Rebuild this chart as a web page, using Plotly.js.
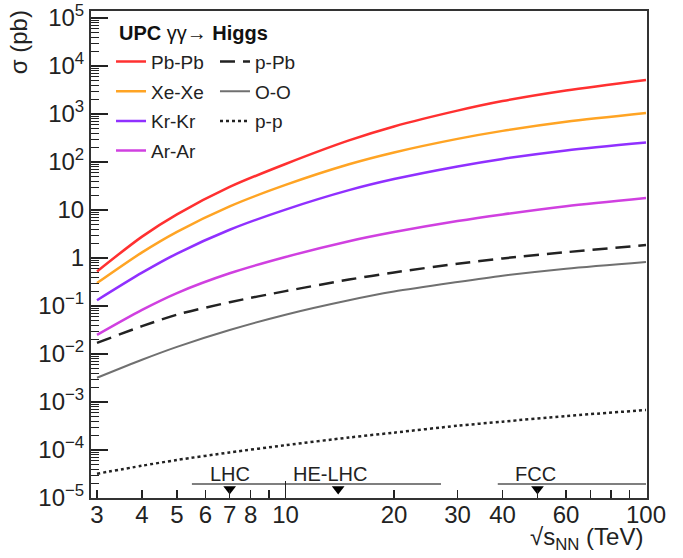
<!DOCTYPE html>
<html><head><meta charset="utf-8">
<script src="https://cdn.plot.ly/plotly-3.0.1.min.js"></script>
<style>body{margin:0;background:#fff}</style>
</head><body><div id="chart" style="width:683px;height:558px"></div>
<script>
// sqrt(s_NN) in TeV
const energies = [3, 4, 5, 7, 10, 15, 20, 30, 40, 60, 100];
// cross sections in pb
const sigmaPbPb = [0.525, 2.79, 8.1, 30.2, 91, 282, 550, 1175, 1860, 3090, 5130];
const sigmaXeXe = [0.30, 1.31, 3.51, 11.9, 33.3, 89.7, 158, 303, 445, 689, 1050];
const sigmaKrKr = [0.132, 0.495, 1.24, 3.88, 10.2, 25.9, 44.1, 80.9, 116, 174, 255];
const sigmaArAr = [0.025, 0.083, 0.186, 0.48, 1.05, 2.24, 3.47, 5.9, 8.1, 12.0, 17.8];
const sigmapPb  = [0.017, 0.038, 0.066, 0.12, 0.204, 0.355, 0.50, 0.76, 0.98, 1.32, 1.86];
const sigmaOO   = [0.0032, 0.0076, 0.0141, 0.0316, 0.066, 0.132, 0.20, 0.316, 0.427, 0.60, 0.83];
const sigmapp   = [3.2e-5, 4.7e-5, 6.2e-5, 8.9e-5, 1.26e-4, 1.82e-4, 2.3e-4, 3.2e-4, 3.9e-4, 5.1e-4, 6.8e-4];

const seriesNames = ['Pb-Pb', 'Xe-Xe', 'Kr-Kr', 'Ar-Ar', 'p-Pb', 'O-O', 'p-p'];
const legendTitle = '<b>UPC</b> γγ→ <b>Higgs</b>';

// colliders
const colliderNames = ['LHC', 'HE-LHC', 'FCC'];
const colliderMin = [5.5, 10, 38.8];
const colliderMax = [10, 27, 100];
const colliderNominal = [7, 14, 50];

// axis ticks
const xTickVals = [3, 4, 5, 6, 7, 8, 9, 10, 20, 30, 40, 50, 60, 70, 80, 90, 100];
const xTickText = ['3', '4', '5', '6', '7', '8', '', '10', '20', '30', '40', '', '60', '', '', '', '100'];
const yTickVals = [1e-5, 1e-4, 1e-3, 1e-2, 1e-1, 1, 10, 1e2, 1e3, 1e4, 1e5];
const yTickText = ['10<sup>−5</sup>', '10<sup>−4</sup>', '10<sup>−3</sup>', '10<sup>−2</sup>', '10<sup>−1</sup>',
                   '1', '10', '10<sup>2</sup>', '10<sup>3</sup>', '10<sup>4</sup>', '10<sup>5</sup>'];

const FONT = 'Liberation Sans, Arial, Helvetica, sans-serif';

const styles = [
  {color: '#ff3030', width: 2.5, dash: 'solid', legend: 'legend'},
  {color: '#ffa424', width: 2.5, dash: 'solid', legend: 'legend'},
  {color: '#9030ff', width: 2.5, dash: 'solid', legend: 'legend'},
  {color: '#d040e0', width: 2.5, dash: 'solid', legend: 'legend'},
  {color: '#222222', width: 2.5, dash: '15px,8px', legend: 'legend2'},
  {color: '#707070', width: 2, dash: 'solid', legend: 'legend2'},
  {color: '#222222', width: 2.5, dash: '3px,3px', legend: 'legend2'}
];
const seriesData = [sigmaPbPb, sigmaXeXe, sigmaKrKr, sigmaArAr, sigmapPb, sigmaOO, sigmapp];

const traces = seriesData.map((ys, i) => ({
  type: 'scatter', mode: 'lines', x: energies, y: ys, name: seriesNames[i],
  line: {color: styles[i].color, width: styles[i].width, dash: styles[i].dash, shape: 'spline', smoothing: 0.8},
  legend: styles[i].legend, legendgroup: 'g' + i
}));

// collider bars and nominal-energy markers (y in a 0..1 overlay axis)
const barX = [], barY = [];
colliderNames.forEach((n, i) => { barX.push(colliderMin[i], colliderMax[i], null); barY.push(0.0287, 0.0287, null); });
traces.push({type: 'scatter', mode: 'lines', x: barX, y: barY, xaxis: 'x2', yaxis: 'y2',
  line: {color: '#555', width: 1.5}, showlegend: false, hoverinfo: 'skip', connectgaps: false});
traces.push({type: 'scatter', mode: 'markers', x: colliderNominal, y: colliderNominal.map(() => 0.0185),
  xaxis: 'x2', yaxis: 'y2', marker: {symbol: 'triangle-down', size: 11, color: '#000'},
  showlegend: false, hoverinfo: 'skip'});

const labelShift = [0, -8, -2];
const colliderAnn = colliderNames.map((n, i) => ({
  text: n, xref: 'x2', yref: 'y2', x: Math.log10(colliderNominal[i]), y: 0.05, xshift: labelShift[i],
  xanchor: 'center', yanchor: 'middle', showarrow: false, font: {family: FONT, size: 20, color: '#222'}
}));

const xr = [Math.log10(3) - 6 / 360.5, 2 + 1 / 360.5];
const yr = [-5, 5 + 7 / 48];

const minorY = [];
for (let e = -5; e < 5; e++) for (let d = 2; d <= 9; d++) minorY.push(d * Math.pow(10, e));

const layout = {
  width: 683, height: 558,
  margin: {l: 91, r: 36, t: 11, b: 60},
  paper_bgcolor: '#fff', plot_bgcolor: '#fff',
  font: {family: FONT, color: '#222'},
  showlegend: true,
  xaxis: {type: 'log', range: xr, tickmode: 'array', tickvals: xTickVals, ticktext: xTickText,
    ticks: 'inside', ticklen: 8, tickwidth: 1.2, tickcolor: '#222',
    showline: true, linecolor: '#333', linewidth: 2, mirror: true, showgrid: false, zeroline: false,
    tickfont: {family: FONT, size: 24, color: '#222'}, ticklabelstandoff: -6},
  xaxis2: {type: 'log', range: xr, overlaying: 'x', anchor: 'y', side: 'bottom',
    tickmode: 'array', tickvals: [10, 100], ticks: 'inside', ticklen: 17, tickwidth: 1.2, tickcolor: '#222',
    showticklabels: false, showline: false, showgrid: false, zeroline: false},
  yaxis: {type: 'log', range: yr, tickmode: 'array', tickvals: yTickVals, ticktext: yTickText,
    ticks: 'inside', ticklen: 17, tickwidth: 1.2, tickcolor: '#222',
    minor: {tickmode: 'array', tickvals: minorY, ticks: 'inside', ticklen: 8, tickwidth: 1, tickcolor: '#222', showgrid: false},
    showline: true, linecolor: '#333', linewidth: 2, mirror: true, showgrid: false, zeroline: false,
    tickfont: {family: FONT, size: 24, color: '#222'}},
  yaxis2: {overlaying: 'y', range: [0, 1], visible: false, fixedrange: true},
  legend: {x: 0.036, y: 0.935, xanchor: 'left', yanchor: 'top', bgcolor: 'rgba(0,0,0,0)', borderwidth: 0,
    font: {family: FONT, size: 19, color: '#222'}, traceorder: 'grouped', tracegroupgap: 2},
  legend2: {x: 0.223, y: 0.935, xanchor: 'left', yanchor: 'top', bgcolor: 'rgba(0,0,0,0)', borderwidth: 0,
    font: {family: FONT, size: 19, color: '#222'}, traceorder: 'grouped', tracegroupgap: 2},
  annotations: [
    {text: legendTitle, xref: 'paper', yref: 'paper', x: 0.0468, y: 0.955, xanchor: 'left', yanchor: 'middle',
      showarrow: false, font: {family: FONT, size: 20, color: '#111'}},
    {text: 'σ (pb)', xref: 'paper', yref: 'paper', x: -0.131, y: 1.006, xanchor: 'center', yanchor: 'top',
      textangle: -90, showarrow: false, font: {family: FONT, size: 24, color: '#222'}},
    {text: '√s<sub>NN</sub> (TeV)',
      xref: 'paper', yref: 'paper',
      x: 0.9964, y: -0.12, xanchor: 'right', yanchor: 'bottom', showarrow: false,
      font: {family: FONT, size: 24, color: '#222'}}
  ].concat(colliderAnn)
};

Plotly.newPlot('chart', traces, layout, {staticPlot: true, displayModeBar: false});
</script>
</body></html>
